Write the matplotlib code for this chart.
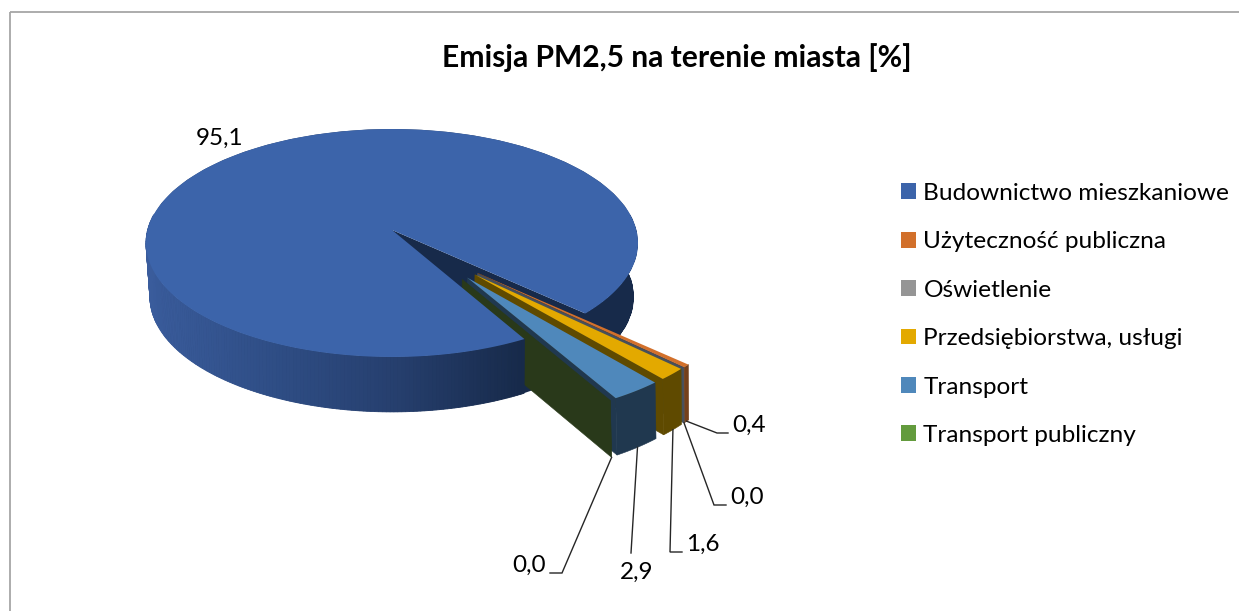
import numpy as np
import matplotlib.pyplot as plt
from matplotlib.colors import LinearSegmentedColormap
from matplotlib.patches import Patch, Polygon, Rectangle

plt.rcParams['font.family'] = ['Lato', 'DejaVu Sans']

title = "Emisja PM2,5 na terenie miasta [%]"
categories = ["Budownictwo mieszkaniowe", "Użyteczność publiczna", "Oświetlenie",
              "Przedsiębiorstwa, usługi", "Transport", "Transport publiczny"]
values = [95.1, 0.4, 0.0, 1.6, 2.9, 0.0]
value_labels = ["95,1", "0,4", "0,0", "1,6", "2,9", "0,0"]

colors = ["#3c64aa", "#d2702b", "#959595", "#e3a900", "#4f88bb", "#639b3d"]
side_colors = ["#172a4a", "#74401b", "#4d5662", "#5f4a00", "#20384f", "#29391a"]
cut_colors = ["#172a4a", "#6e3a18", "#46505c", "#5f4a00", "#20384f", "#29391a"]

first_angle = 150.8     # from 12 o'clock, clockwise
explode = 0.5
fan = 0.55              # small slices move nearly the same way

# label layout in pixels, small slices only: elbow, line end, text centre
label_elbow = [None, (717, 433), (714, 505), (670, 552), (631, 553), (562, 573)]
label_end = [None, (728, 433), (726, 505), (682, 552), (631, 553), (550, 573)]
label_pos = [(220, 138), (749, 425), (747, 497), (703, 544), (637, 572), (529, 565)]

# perspective of the disc, top face and bottom face
TOP = dict(a=244.4, b=112.5, k=0.114, cy=230.0)
BOTTOM = dict(a=240.0, b=113.0, k=0.13, cy=282.0)
CX = 392.0


def project(u, v, face):
    w = 1 + face['k'] * v
    return CX + face['a'] * u / w, face['cy'] - face['b'] * v / w


def arc(start, stop, face, du=0.0, dv=0.0, n=60):
    t = np.radians(np.linspace(start, stop, n))
    x, y = project(np.cos(t) + du, np.sin(t) + dv, face)
    return np.column_stack([x, y])


fig = plt.figure(figsize=(12.39, 6.11), dpi=100)
ax = fig.add_axes([0, 0, 1, 1])
ax.set_xlim(0, 1239)
ax.set_ylim(611, 0)
ax.axis('off')

# chart frame runs off the picture on the right and bottom
ax.add_patch(Rectangle((10, 12), 1300, 700, fill=False, ec="#a6a6a6", lw=1.3))

# slice angles, clockwise in math degrees
sweeps = np.array(values) / sum(values) * 360
starts = 90 - first_angle - np.concatenate([[0], np.cumsum(sweeps)[:-1]])
stops = starts - sweeps
main_start, main_stop = starts[0], stops[0]
group_mid = (starts[1] + stops[-1]) / 2


def offset(i):
    direction = np.radians(group_mid + fan * ((starts[i] + stops[i]) / 2 - group_mid))
    return explode * np.cos(direction), explode * np.sin(direction)


# back part of the main slice: its cut face and right wall
apex_top = project(0, 0, TOP)
apex_bot = project(0, 0, BOTTOM)
ax.add_patch(Polygon([apex_top, arc(main_stop, main_stop, TOP, n=1)[0],
                      arc(main_stop, main_stop, BOTTOM, n=1)[0], apex_bot],
                     fc=side_colors[0], lw=0))
right_top = arc(main_stop, 8, TOP)
right_bot = arc(main_stop, 8, BOTTOM)
ax.add_patch(Polygon(np.vstack([right_top, right_bot[::-1]]), fc=side_colors[0], lw=0))

# exploded small slices, back to front
for i in range(1, len(values)):
    du, dv = offset(i)
    top = arc(starts[i], stops[i], TOP, du, dv, 12)
    bot = arc(starts[i], stops[i], BOTTOM, du, dv, 12)
    a_top = project(du, dv, TOP)
    a_bot = project(du, dv, BOTTOM)
    ax.add_patch(Polygon([a_top, top[-1], bot[-1], a_bot], fc=cut_colors[i],
                         ec=cut_colors[i], lw=0.4))
    ax.add_patch(Polygon(np.vstack([top, bot[::-1]]), fc=side_colors[i],
                         ec=side_colors[i], lw=0.4))
    if sweeps[i] > 0:
        ax.add_patch(Polygon(np.vstack([[a_top], top]), fc=colors[i], lw=0))

# front wall of the main slice, lit from the left
wall_cmap = LinearSegmentedColormap.from_list(
    "wall", ["#3a5c9c", "#2f4e86", "#263f6e", "#172a4a"])
wall_top = arc(main_start, -188, TOP, n=160)
wall_bot = arc(main_start, -188, BOTTOM, n=160)
x_min, x_max = wall_top[:, 0].min(), wall_top[:, 0].max()
for j in range(len(wall_top) - 1):
    shade = wall_cmap((wall_top[j, 0] - x_min) / (x_max - x_min))
    ax.add_patch(Polygon([wall_top[j], wall_top[j + 1], wall_bot[j + 1], wall_bot[j]],
                         fc=shade, ec=shade, lw=0.6))

# main slice top face
main_top = arc(main_start, main_stop, TOP, n=400)
ax.add_patch(Polygon(np.vstack([[apex_top], main_top]), fc=colors[0], lw=0))

# data labels and leader lines
for i, label in enumerate(value_labels):
    ax.text(label_pos[i][0], label_pos[i][1], label, fontsize=17.5, color="black",
            ha='center', va='center')
    if label_elbow[i] is None:
        continue
    du, dv = offset(i)
    mid = np.radians((starts[i] + stops[i]) / 2)
    sx, sy = project(np.cos(mid) + du, np.sin(mid) + dv, BOTTOM)
    ax.plot([sx, label_elbow[i][0], label_end[i][0]],
            [sy, label_elbow[i][1], label_end[i][1]], color="#262626", lw=1.0,
            solid_joinstyle='miter')

ax.text(677, 58, title, fontsize=21.6, fontweight='bold', color="black",
        ha='center', va='center')

handles = [Patch(fc=c, lw=0) for c in colors]
ax.legend(handles, categories, loc='upper left', bbox_to_anchor=(901, 183),
          bbox_transform=ax.transData, frameon=False, fontsize=17.6,
          handlelength=0.62, handleheight=0.62, handletextpad=0.3,
          labelspacing=1.12, borderpad=0, borderaxespad=0)

fig.savefig("out.png", dpi=100)
plt.close(fig)
